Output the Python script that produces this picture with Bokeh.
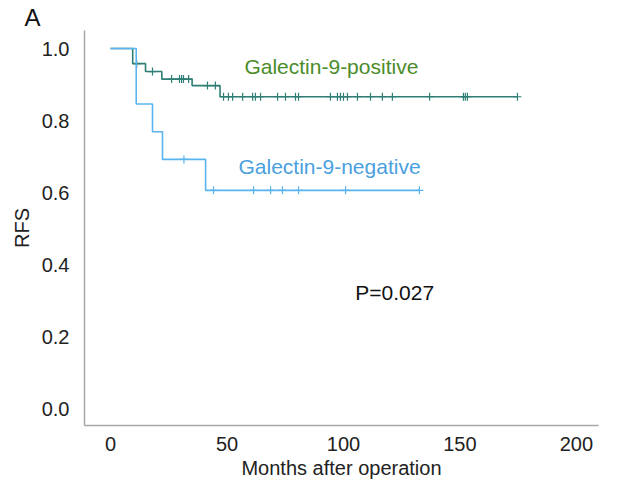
import numpy as np
from bokeh.plotting import figure
from bokeh.models import Range1d, Label, FixedTicker, NumeralTickFormatter
from bokeh.embed import file_html
from bokeh.resources import INLINE

# ---- data ----
pos_event_times = [0, 9.5, 15, 22, 35, 47]
pos_surv = [1.0, 0.958, 0.936, 0.915, 0.897, 0.866]
pos_end = 174.7
pos_censor = [11.2, 18, 26.2, 29.6, 30.5, 31.3, 33.5, 41.6, 45.0,
              48.5, 50.6, 52.4, 56.7, 61.0, 62.2, 64.4, 71.7, 75.1, 79.4, 80.7,
              94.4, 97.4, 98.7, 100.0, 101.7, 106.0, 111.6, 116.7, 121.0, 137.0,
              151.5, 152.3, 153.2, 174.7]

neg_event_times = [0, 11, 18, 22.3, 40.8]
neg_surv = [1.0, 0.846, 0.769, 0.692, 0.606]
neg_end = 132.6
neg_censor = [31.5, 44.2, 61.4, 68.7, 73.8, 80.7, 100.9, 132.6]

x_ticks = [0, 50, 100, 150, 200]
y_ticks = [0.0, 0.2, 0.4, 0.6, 0.8, 1.0]

POS_LINE = "#2f7f77"
POS_TEXT = "#4b8c2b"
NEG_LINE = "#5ab4ee"
NEG_TEXT = "#4a9fe0"
FONT = "Liberation Sans"


def surv_at(times, surv, t):
    idx = np.searchsorted(times, t, side="right") - 1
    return surv[max(idx, 0)]


p = figure(width=608, height=481, output_backend="svg", toolbar_location=None,
           x_range=Range1d(-11.2, 209.5), y_range=Range1d(-0.047, 1.05),
           min_border_left=84, min_border_right=10, min_border_top=30, min_border_bottom=56,
           title="A")
p.title.text_font = FONT
p.title.text_font_size = "24px"
p.title.text_font_style = "normal"
p.title.text_color = "#111111"
p.title.align = "left"
p.title.offset = -60
p.title.standoff = 0
p.outline_line_color = None
p.grid.grid_line_color = None
p.background_fill_color = "white"

for times, surv, end, cens, col in [
    (pos_event_times, pos_surv, pos_end, pos_censor, POS_LINE),
    (neg_event_times, neg_surv, neg_end, neg_censor, NEG_LINE),
]:
    xs = list(times) + [end]
    ys = list(surv) + [surv[-1]]
    p.step(xs, ys, mode="after", line_color=col, line_width=1.6)
    cy = [surv_at(times, surv, c) for c in cens]
    p.scatter(cens, cy, marker="cross", size=8, line_color=col, line_width=1.2)

# axes
for ax in (p.xaxis, p.yaxis):
    ax.axis_line_color = "#a8a8a8"
    ax.axis_line_width = 1.5
    ax.major_tick_line_color = None
    ax.minor_tick_line_color = None
    ax.major_label_text_font = FONT
    ax.major_label_text_font_size = "20px"
    ax.major_label_text_color = "#222222"
    ax.axis_label_text_font = FONT
    ax.axis_label_text_font_size = "20px"
    ax.axis_label_text_font_style = "normal"
    ax.axis_label_text_color = "#222222"

p.xaxis.ticker = FixedTicker(ticks=x_ticks)
p.yaxis.ticker = FixedTicker(ticks=y_ticks)
p.yaxis.formatter = NumeralTickFormatter(format="0.0")
p.xaxis.major_label_standoff = 5
p.yaxis.major_label_standoff = 9
p.xaxis.axis_label = "Months after operation"
p.yaxis.axis_label = "RFS"
p.xaxis.axis_label_standoff = 3
p.yaxis.axis_label_standoff = 6

p.add_layout(Label(x=94.8, y=0.95, text="Galectin-9-positive", text_color=POS_TEXT,
                   text_font=FONT, text_font_size="21px", text_align="center", text_baseline="middle"))
p.add_layout(Label(x=94.0, y=0.672, text="Galectin-9-negative", text_color=NEG_TEXT,
                   text_font=FONT, text_font_size="21px", text_align="center", text_baseline="middle"))
p.add_layout(Label(x=122.0, y=0.322, text="P=0.027", text_color="#111111",
                   text_font=FONT, text_font_size="21px", text_align="center", text_baseline="middle"))

open("out.html", "w").write(file_html(p, INLINE))
